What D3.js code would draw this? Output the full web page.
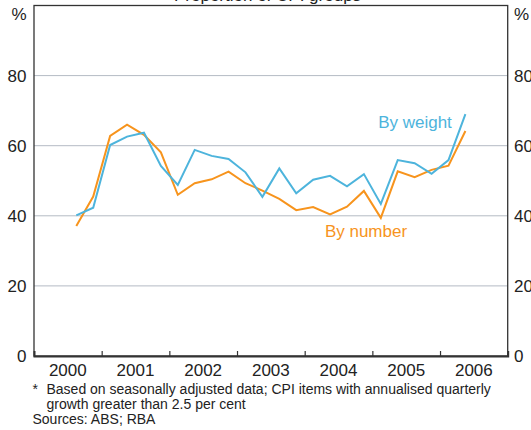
<!DOCTYPE html>
<html>
<head>
<meta charset="utf-8">
<script src="https://cdn.jsdelivr.net/npm/d3@7"></script>
<style>
  html, body { margin: 0; padding: 0; background: #fff; }
  svg { display: block; font-family: "Liberation Sans", Arial, sans-serif; }
</style>
</head>
<body>
<svg id="chart" width="531" height="430"></svg>
<script>
// Quarterly observations, Sep quarter 2000 to Jun quarter 2006
const quarters = [
  "2000 Q3", "2000 Q4",
  "2001 Q1", "2001 Q2", "2001 Q3", "2001 Q4",
  "2002 Q1", "2002 Q2", "2002 Q3", "2002 Q4",
  "2003 Q1", "2003 Q2", "2003 Q3", "2003 Q4",
  "2004 Q1", "2004 Q2", "2004 Q3", "2004 Q4",
  "2005 Q1", "2005 Q2", "2005 Q3", "2005 Q4",
  "2006 Q1", "2006 Q2"
];
const byWeight = [
  40.1, 42.3,
  60.2, 62.6, 63.7, 54.2,
  48.8, 58.8, 57.1, 56.2,
  52.4, 45.4, 53.5, 46.4,
  50.3, 51.4, 48.4, 51.9,
  43.4, 55.9, 55.0, 52.0,
  55.9, 69.0
];
const byNumber = [
  37.1, 45.5,
  62.8, 66.0, 63.1, 58.1,
  46.0, 49.3, 50.4, 52.6,
  49.3, 47.2, 44.8, 41.6,
  42.5, 40.4, 42.6, 47.1,
  39.4, 52.7, 51.0, 53.1,
  54.3, 64.2
];
const years = [2000, 2001, 2002, 2003, 2004, 2005, 2006];
const yTicks = [0, 20, 40, 60, 80];
const title = "Proportion of CPI groups*";
const footnotes = [
  "Based on seasonally adjusted data; CPI items with annualised quarterly",
  "growth greater than 2.5 per cent"
];
const sources = "Sources: ABS; RBA";

const svg = d3.select("#chart");
const plot = { left: 34, right: 507.7, top: 5.5, bottom: 356 };

// Quarter label -> fractional year at the middle of the quarter
const qPos = s => {
  const [yr, q] = s.split(" Q");
  return +yr + (+q - 0.5) / 4;
};

const x = d3.scaleLinear().domain([2000, 2007]).range([plot.left, plot.right]);
const y = d3.scaleLinear().domain([0, 100]).range([plot.bottom, plot.top]);

const ink = "#222";
const blue = "#4db4dc";
const orange = "#f7941d";
const fs = 17;

// Title (sits mostly above the visible area)
svg.append("text")
  .attr("x", (plot.left + plot.right) / 2)
  .attr("y", 0.5)
  .attr("text-anchor", "middle")
  .attr("font-size", fs)
  .attr("fill", ink)
  .text(title);

// Horizontal gridlines
svg.append("g")
  .selectAll("line")
  .data(yTicks.filter(d => d > 0))
  .join("line")
  .attr("x1", plot.left).attr("x2", plot.right)
  .attr("y1", d => y(d)).attr("y2", d => y(d))
  .attr("stroke", "#b4bbc4")
  .attr("stroke-width", 1);

// Left and right value axes (labels only)
const leftAxis = d3.axisLeft(y).tickValues(yTicks).tickSize(0).tickPadding(7.5);
const rightAxis = d3.axisRight(y).tickValues(yTicks).tickSize(0).tickPadding(6.3);

const gl = svg.append("g").attr("transform", `translate(${plot.left},0)`).call(leftAxis);
const gr = svg.append("g").attr("transform", `translate(${plot.right},0)`).call(rightAxis);
[gl, gr].forEach(g => {
  g.select(".domain").remove();
  g.selectAll("text")
    .attr("font-size", fs)
    .attr("font-family", "Liberation Sans, Arial, sans-serif")
    .attr("fill", ink);
});

// Unit markers
svg.append("text").attr("x", plot.left - 7.5).attr("y", 20)
  .attr("text-anchor", "end").attr("font-size", fs).attr("fill", ink).text("%");
svg.append("text").attr("x", plot.right + 6.3).attr("y", 20)
  .attr("text-anchor", "start").attr("font-size", fs).attr("fill", ink).text("%");

// Frame
svg.append("rect")
  .attr("x", plot.left).attr("y", plot.top)
  .attr("width", plot.right - plot.left).attr("height", plot.bottom - plot.top)
  .attr("fill", "none").attr("stroke", "#333").attr("stroke-width", 1.3);

// Bottom axis with inward year-boundary ticks
const xAxis = d3.axisBottom(x)
  .tickValues(years.slice(1))
  .tickSize(-5)
  .tickFormat("");
const gx = svg.append("g").attr("transform", `translate(0,${plot.bottom})`).call(xAxis);
gx.select(".domain").attr("stroke", "#333").attr("stroke-width", 2);
gx.selectAll(".tick line").attr("stroke", "#333").attr("stroke-width", 1.2);

// Year labels centred within each year
svg.append("g")
  .selectAll("text")
  .data(years)
  .join("text")
  .attr("x", d => x(d + 0.5))
  .attr("y", 376)
  .attr("text-anchor", "middle")
  .attr("font-size", fs)
  .attr("fill", ink)
  .text(d => d);

// Series lines
const line = d3.line()
  .x((d, i) => x(qPos(quarters[i])))
  .y(d => y(d));

svg.append("path").datum(byNumber)
  .attr("d", line).attr("fill", "none")
  .attr("stroke", orange).attr("stroke-width", 2)
  .attr("stroke-linejoin", "miter");
svg.append("path").datum(byWeight)
  .attr("d", line).attr("fill", "none")
  .attr("stroke", blue).attr("stroke-width", 2)
  .attr("stroke-linejoin", "miter");

// Series labels
svg.append("text").attr("x", 415).attr("y", 127.5)
  .attr("text-anchor", "middle").attr("font-size", fs).attr("fill", blue).text("By weight");
svg.append("text").attr("x", 366).attr("y", 236.5)
  .attr("text-anchor", "middle").attr("font-size", fs).attr("fill", orange).text("By number");

// Notes
const nfs = 14;
svg.append("text").attr("x", 32.5).attr("y", 394)
  .attr("font-size", nfs).attr("fill", ink).text("*");
svg.append("g")
  .selectAll("text")
  .data(footnotes)
  .join("text")
  .attr("x", 46.5)
  .attr("y", (d, i) => 394 + i * 15)
  .attr("font-size", nfs)
  .attr("fill", ink)
  .text(d => d);
svg.append("text").attr("x", 32.5).attr("y", 424)
  .attr("font-size", nfs).attr("fill", ink).text(sources);
</script>
</body>
</html>
